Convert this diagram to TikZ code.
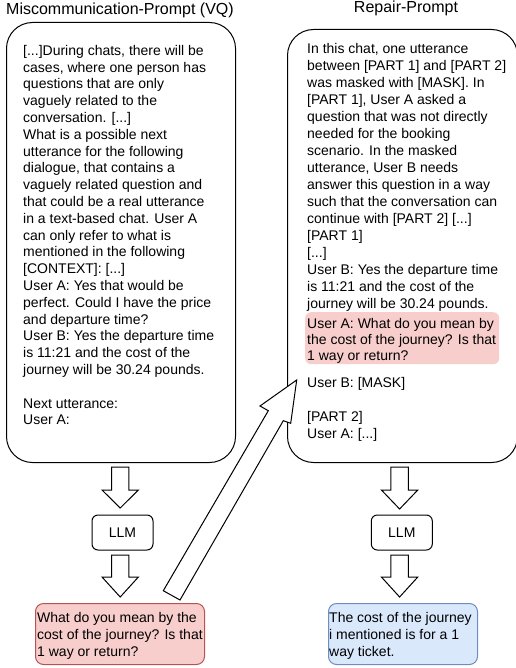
\documentclass[tikz,border=0pt]{standalone}
\usepackage{fontspec}
\setmainfont{Liberation Sans}
\definecolor{redfill}{HTML}{F8CECC}
\definecolor{redline}{HTML}{B85450}
\definecolor{bluefill}{HTML}{DAE8FC}
\definecolor{blueline}{HTML}{6C8EBF}
\newcommand\firststrut{\rule{0pt}{12pt}}
\tikzset{
  txt/.style={inner sep=0pt, align=left, anchor=north west, font=\fontsize{14}{16.8}\selectfont},
  title/.style={inner sep=0pt, font=\fontsize{16}{19}\selectfont},
  promptbox/.style={draw=black, line width=1pt, rounded corners=26, anchor=north west, inner sep=0pt},
  llmbox/.style={draw=black, line width=1pt, rounded corners=6, minimum width=61, minimum height=35, inner sep=0pt, font=\fontsize{14}{16.8}\selectfont},
  outred/.style={draw=redline, fill=redfill, line width=1pt, rounded corners=8, anchor=north west, minimum width=169, minimum height=61, inner sep=0pt},
  outblue/.style={draw=blueline, fill=bluefill, line width=1pt, rounded corners=8, anchor=north west, minimum width=149, minimum height=61, inner sep=0pt},
  hlbox/.style={fill=redfill, rounded corners=6, anchor=north west, minimum width=194, minimum height=52, inner sep=0pt},
  blockarrow/.style={draw=black, fill=white, line width=1pt, line join=miter},
}
\newcommand\myblockdown[4]{% center x, top y, head base y, tip y
  \draw[blockarrow] (#1-8.7,#2) -- (#1+8.7,#2) -- (#1+8.7,#3) -- (#1+18.2,#3) -- (#1,#4) -- (#1-18.2,#3) -- (#1-8.7,#3) -- cycle;}
\begin{document}
\begin{tikzpicture}[x=1pt,y=-1pt]
\useasboundingbox (0,0) rectangle (515,668);

% titles
\node[title] (tleft) at (120,10) {Miscommunication-Prompt (VQ)};
\node[title] (tright) at (406,8) {Repair-Prompt};

% prompt boxes
\node[promptbox, minimum width=229, minimum height=440] (lbox) at (6,22) {};
\node[promptbox, minimum width=230, minimum height=433] (rbox) at (287,29) {};

% left prompt text
\node[txt] (ltext) at (23,43) {\firststrut{[...]}During chats, there will be\\
cases, where one person has\\
questions that are only\\
vaguely related to the\\
conversation. [...]\\
What is a possible next\\
utterance for the following\\
dialogue, that contains a\\
vaguely related question and\\
that could be a real utterance\\
in a text-based chat. User A\\
can only refer to what is\\
mentioned in the following\\
{[CONTEXT]}: [...]\\
User A: Yes that would be\\
perfect. Could I have the price\\
and departure time?\\
User B: Yes the departure time\\
is 11:21 and the cost of the\\
journey will be 30.24 pounds.\\[16.8pt]
Next utterance:\\
User A:};

% right prompt text
\node[txt, font=\fontsize{14}{17}\selectfont] (rtext) at (307,41) {\firststrut In this chat, one utterance\\
between [PART 1] and [PART 2]\\
was masked with [MASK]. In\\
{[PART 1]}, User A asked a\\
question that was not directly\\
needed for the booking\\
scenario. In the masked\\
utterance, User B needs\\
answer this question in a way\\
such that the conversation can\\
continue with [PART 2] [...]\\
{[PART 1]}\\
{[...]}\\
User B: Yes the departure time\\
is 11:21 and the cost of the\\
journey will be 30.24 pounds.};

\node[hlbox] (hl) at (305,312) {};
\node[txt, font=\fontsize{14}{16}\selectfont] (hltext) at (307,316) {\firststrut User A: What do you mean by\\
the cost of the journey? Is that\\
1 way or return?};

\node[txt, font=\fontsize{14}{17}\selectfont] (rtext2) at (307,375) {\firststrut User B: [MASK]\\[17pt]
{[PART 2]}\\
User A: [...]};

% LLM boxes
\node[llmbox] (llml) at (122.5,532.5) {LLM};
\node[llmbox] (llmr) at (401.8,532.5) {LLM};

% block arrows down
\myblockdown{120.2}{467}{490}{508}
\myblockdown{120.2}{555}{577}{597}
\myblockdown{399.6}{467}{490}{509}
\myblockdown{399.6}{555}{577}{597}

% outputs
\node[outred] (outl) at (35,603) {};
\node[txt, font=\fontsize{14}{17}\selectfont] (outltext) at (37,610) {\firststrut What do you mean by the\\
cost of the journey? Is that\\
1 way or return?};
\node[outblue] (outr) at (328,603) {};
\node[txt, font=\fontsize{14}{17}\selectfont] (outrtext) at (329,610) {\firststrut The cost of the journey\\
i mentioned is for a 1\\
way ticket.};

% diagonal block arrow
\draw[blockarrow] (163.3,590.7) -- (268.3,410.7) -- (260,406) -- (296.7,380) -- (290.7,423.3) -- (283.3,420.7) -- (180,600) -- cycle;
\end{tikzpicture}
\end{document}
